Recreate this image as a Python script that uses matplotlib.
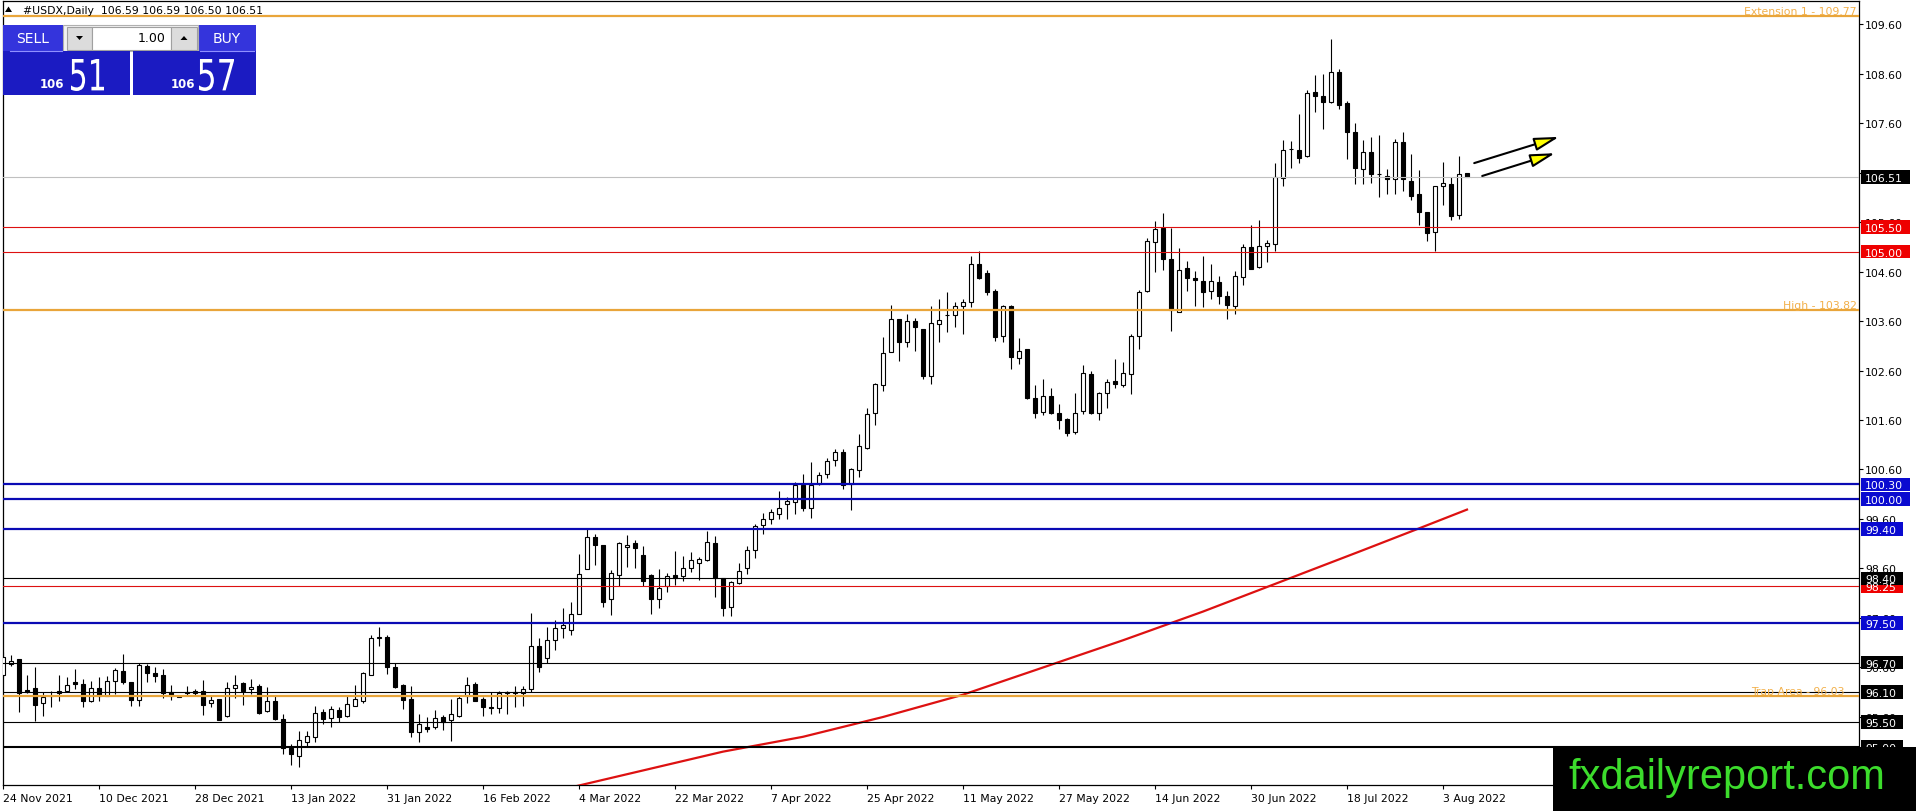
import matplotlib
matplotlib.use('Agg')
import matplotlib.pyplot as plt
import numpy as np
from matplotlib.patches import Rectangle, FancyArrowPatch, PathPatch, Polygon
from matplotlib.textpath import TextPath
from matplotlib.font_manager import FontProperties
from matplotlib.transforms import Affine2D, blended_transform_factory

# ---------------- data (daily OHLC, USDX) ----------------
opens = [96.44, 96.67, 96.77, 96.15, 96.19, 95.88, 96.02, 96.12, 96.12, 96.30,
         96.27, 95.92, 96.19, 96.03, 96.33, 96.52, 96.31, 95.95, 96.64, 96.49,
         96.45, 96.10, 96.02, 96.10, 96.09, 96.12, 95.88, 95.96, 95.61, 96.19,
         96.28, 96.16, 96.23, 95.72, 95.92, 95.56, 94.97, 94.82, 95.10, 95.20,
         95.70, 95.57, 95.74, 95.61, 95.83, 95.93, 96.45, 97.20, 97.22, 96.62,
         96.25, 95.96, 95.29, 95.39, 95.39, 95.60, 95.53, 95.61, 96.03, 96.27,
         95.96, 95.80, 95.78, 96.08, 96.09, 96.09, 96.17, 97.04, 96.80, 97.15,
         97.40, 97.35, 97.69, 98.58, 99.23, 99.07, 97.98, 98.46, 99.03, 99.11,
         98.87, 98.46, 97.98, 98.25, 98.46, 98.44, 98.60, 98.72, 98.77, 99.11,
         98.41, 97.82, 98.30, 98.60, 98.97, 99.47, 99.61, 99.70, 99.90, 99.94,
         100.29, 99.82, 100.31, 100.51, 100.79, 100.95, 100.31, 100.59, 101.03, 101.74,
         102.31, 102.97, 103.64, 103.17, 103.61, 103.44, 102.48, 103.54, 103.72, 103.72,
         103.90, 103.98, 104.75, 104.57, 104.21, 103.29, 103.90, 102.85, 103.03, 102.04,
         101.76, 102.09, 101.74, 101.63, 101.35, 101.79, 102.53, 101.74, 102.14, 102.38,
         102.31, 102.53, 103.30, 104.20, 105.20, 105.47, 104.85, 103.79, 104.68, 104.47,
         104.40, 104.20, 104.38, 104.11, 103.91, 104.48, 105.09, 104.70, 105.11, 105.16,
         106.48, 107.07, 107.05, 106.94, 108.23, 108.14, 108.02, 108.64, 108.00, 107.42,
         106.68, 107.02, 106.58, 106.52, 106.46, 107.21, 106.42, 106.17, 105.80, 105.39,
         106.33, 106.37, 105.75, 106.59]
highs = [96.91, 96.85, 96.77, 96.44, 96.60, 96.10, 96.13, 96.44, 96.40, 96.57,
         96.37, 96.33, 96.40, 96.42, 96.58, 96.87, 96.31, 96.69, 96.67, 96.60,
         96.57, 96.25, 96.03, 96.23, 96.17, 96.35, 96.03, 95.96, 96.31, 96.44,
         96.31, 96.37, 96.27, 96.20, 96.03, 95.66, 95.05, 95.32, 95.32, 95.82,
         95.76, 95.83, 95.80, 96.03, 96.25, 96.50, 97.26, 97.41, 97.26, 96.69,
         96.27, 96.22, 95.66, 95.59, 95.74, 95.64, 95.96, 96.03, 96.40, 96.30,
         96.00, 96.10, 96.13, 96.13, 96.23, 96.23, 97.71, 97.20, 97.41, 97.56,
         97.80, 97.92, 98.89, 99.40, 99.30, 99.07, 98.56, 99.14, 99.28, 99.18,
         99.05, 98.49, 98.59, 98.51, 98.95, 98.85, 98.93, 98.83, 99.35, 99.26,
         98.41, 98.35, 98.71, 99.05, 99.50, 99.73, 99.80, 100.16, 100.04, 100.34,
         100.50, 100.75, 100.54, 100.83, 101.01, 101.01, 100.63, 101.32, 101.84, 102.34,
         103.27, 103.92, 103.64, 103.74, 103.66, 103.44, 103.91, 104.04, 104.18, 103.98,
         104.04, 104.92, 105.01, 104.64, 104.25, 103.92, 103.92, 103.25, 103.03, 102.31,
         102.43, 102.24, 101.92, 101.65, 102.15, 102.71, 102.60, 102.17, 102.43, 102.83,
         102.77, 103.34, 104.23, 105.27, 105.63, 105.78, 105.47, 105.07, 104.81, 104.62,
         104.92, 104.75, 104.50, 104.21, 104.62, 105.16, 105.54, 105.64, 105.24, 106.79,
         107.26, 107.24, 107.78, 108.27, 108.57, 108.59, 109.30, 108.70, 108.05, 107.61,
         107.25, 107.31, 107.36, 106.68, 107.28, 107.41, 106.97, 106.65, 105.80, 106.32,
         106.82, 106.50, 106.94, 106.59]
lows = [96.40, 96.64, 95.71, 96.08, 95.51, 95.63, 95.80, 95.93, 96.10, 96.17,
        95.81, 95.90, 95.93, 96.02, 96.06, 96.27, 95.82, 95.83, 96.30, 96.30,
        95.98, 95.94, 96.00, 96.02, 96.03, 95.64, 95.81, 95.53, 95.59, 95.98,
        95.84, 96.07, 95.66, 95.71, 95.53, 94.85, 94.62, 94.58, 95.01, 95.09,
        95.46, 95.39, 95.49, 95.59, 95.82, 95.88, 96.44, 97.03, 96.47, 96.19,
        95.77, 95.20, 95.10, 95.30, 95.36, 95.34, 95.12, 95.59, 95.88, 95.92,
        95.63, 95.67, 95.69, 95.66, 95.80, 95.82, 96.10, 96.50, 96.70, 96.95,
        97.20, 97.25, 97.69, 98.58, 98.67, 97.82, 97.67, 98.25, 98.64, 98.60,
        98.25, 97.69, 97.81, 98.13, 98.27, 98.35, 98.52, 98.36, 98.76, 98.02,
        97.65, 97.65, 98.29, 98.48, 98.81, 99.30, 99.50, 99.60, 99.60, 99.70,
        99.77, 99.63, 100.28, 100.42, 100.68, 100.21, 99.78, 100.44, 101.01, 101.49,
        102.19, 102.97, 102.80, 103.07, 103.00, 102.43, 102.33, 103.17, 103.37, 103.47,
        103.34, 103.88, 104.45, 104.12, 103.20, 103.17, 102.64, 102.73, 102.03, 101.64,
        101.70, 101.72, 101.42, 101.27, 101.32, 101.72, 101.72, 101.61, 101.84, 102.24,
        102.26, 102.13, 103.03, 104.18, 104.60, 104.64, 103.40, 103.78, 104.21, 103.91,
        103.88, 104.04, 103.94, 103.65, 103.74, 104.33, 104.65, 104.68, 104.80, 105.02,
        106.33, 106.70, 106.80, 106.91, 107.83, 107.47, 108.00, 107.88, 106.87, 106.37,
        106.37, 106.39, 106.10, 106.17, 106.17, 106.23, 106.05, 105.53, 105.22, 105.02,
        105.94, 105.65, 105.66, 106.50]
closes = [96.81, 96.74, 96.08, 96.10, 95.85, 96.00, 96.03, 96.09, 96.25, 96.27,
          95.92, 96.19, 96.02, 96.32, 96.54, 96.31, 95.95, 96.65, 96.48, 96.42,
          96.08, 96.02, 96.01, 96.08, 96.12, 95.85, 95.94, 95.53, 96.18, 96.25,
          96.13, 96.20, 95.68, 95.93, 95.56, 94.97, 94.85, 95.14, 95.22, 95.69,
          95.55, 95.76, 95.59, 95.86, 95.96, 96.48, 97.19, 97.21, 96.60, 96.21,
          95.95, 95.30, 95.46, 95.36, 95.57, 95.49, 95.66, 95.99, 96.25, 95.93,
          95.80, 95.79, 96.08, 96.10, 96.10, 96.17, 97.04, 96.62, 97.15, 97.40,
          97.45, 97.69, 98.48, 99.23, 99.08, 97.93, 98.50, 99.11, 99.07, 99.01,
          98.35, 97.99, 98.20, 98.44, 98.41, 98.60, 98.77, 98.79, 99.13, 98.41,
          97.80, 98.32, 98.54, 98.97, 99.45, 99.60, 99.74, 99.82, 99.96, 100.29,
          99.82, 100.29, 100.48, 100.77, 100.95, 100.29, 100.61, 101.08, 101.72, 102.33,
          102.95, 103.65, 103.18, 103.61, 103.47, 102.48, 103.56, 103.63, 103.73, 103.91,
          103.99, 104.75, 104.46, 104.19, 103.27, 103.90, 102.87, 103.00, 102.04, 101.74,
          102.09, 101.74, 101.61, 101.33, 101.75, 102.54, 101.74, 102.14, 102.37, 102.32,
          102.55, 103.30, 104.18, 105.21, 105.46, 104.85, 103.83, 104.64, 104.46, 104.42,
          104.18, 104.40, 104.11, 103.92, 104.50, 105.09, 104.66, 105.11, 105.17, 106.50,
          107.06, 107.08, 106.89, 108.21, 108.15, 108.03, 108.64, 107.96, 107.42, 106.70,
          107.02, 106.56, 106.56, 106.46, 107.22, 106.46, 106.13, 105.81, 105.37, 106.32,
          106.38, 105.73, 106.57, 106.51]

date_tick_bars = [0, 12, 24, 36, 48, 60, 72, 84, 96, 108, 120, 132, 144, 156, 168, 180]
date_labels = ['24 Nov 2021', '10 Dec 2021', '28 Dec 2021', '13 Jan 2022', '31 Jan 2022',
               '16 Feb 2022', '4 Mar 2022', '22 Mar 2022', '7 Apr 2022', '25 Apr 2022',
               '11 May 2022', '27 May 2022', '14 Jun 2022', '30 Jun 2022', '18 Jul 2022',
               '3 Aug 2022']
price_ticks = [94.60, 95.60, 96.60, 97.60, 98.60, 99.60, 100.60, 101.60, 102.60,
               103.60, 104.60, 105.60, 106.60, 107.60, 108.60, 109.60]

# moving average (red line) read at a few bars
ma_bars = [70, 80, 90, 100, 110, 120, 130, 140, 150, 160, 170, 177, 183]
ma_values = [94.14, 94.52, 94.90, 95.20, 95.60, 96.05, 96.60, 97.15, 97.73, 98.35,
             98.97, 99.41, 99.79]

# horizontal levels
level_values = [109.77, 106.51, 105.50, 105.00, 103.82, 100.30, 100.00, 99.40,
                98.25, 98.40, 97.50, 96.70, 96.10, 96.03, 95.50, 95.00]
level_kinds = ['orange', 'price', 'red', 'red', 'orange', 'blue', 'blue', 'blue',
               'red', 'black', 'blue', 'black', 'black', 'orange', 'black', 'blackthick']
orange_texts = {109.77: 'Extension 1 - 109.77', 103.82: 'High - 103.82',
                96.03: 'Trap Area - 96.03'}
orange_text_right = {109.77: 1857, 103.82: 1857, 96.03: 1845}

# arrows (bar, price) start -> tip
arrow_starts = [(183.9, 106.79), (184.9, 106.53)]
arrow_tips = [(194.5, 107.32), (194.0, 106.99)]

header = '#USDX,Daily  106.59 106.59 106.50 106.51'
sell_big, buy_big, price_small = '51', '57', '106'
lot_text = '1.00'

# ---------------- figure ----------------
W, H = 1916, 812
Lp, Rp, Tp, Bp = 2.7, 1859.0, 2.0, 786.0
fig = plt.figure(figsize=(W / 100, H / 100), dpi=100)
fig.patch.set_facecolor('white')
ax = fig.add_axes([Lp / W, (H - Bp) / H, (Rp - Lp) / W, (Bp - Tp) / H])
ax.set_xlim(-0.04, 232.0)
ax.set_ylim(94.226, 110.065)
ax.set_facecolor('white')
for sp in ax.spines.values():
    sp.set_color('black')
    sp.set_linewidth(0.9)

FS = 7.8
o = np.array(opens); h = np.array(highs); l = np.array(lows); c = np.array(closes)
x = np.arange(len(o))
ax.vlines(x, l, h, color='black', lw=0.8, zorder=3)
up = c >= o
ax.bar(x[up], (c - o)[up], bottom=o[up], width=0.58, facecolor='white',
       edgecolor='black', linewidth=0.8, zorder=4)
ax.bar(x[~up], (o - c)[~up], bottom=c[~up], width=0.58, facecolor='black',
       edgecolor='black', linewidth=0.8, zorder=4)

ax.plot(ma_bars, ma_values, color='#dd1111', lw=1.6, zorder=4.5)

style = {
    'orange': ('#e9a53a', 1.6),
    'price': ('#c0c0c0', 0.8),
    'red': ('#dd1111', 0.8),
    'blue': ('#0a0ab4', 1.6),
    'black': ('black', 0.8),
    'blackthick': ('black', 1.5),
}
box_color = {'price': 'black', 'red': '#ee0000', 'blue': '#0a0ad0',
             'black': 'black', 'blackthick': 'black'}

tr_b = blended_transform_factory(ax.transAxes, ax.transData)
span = Rp - Lp
bx0 = (1861 - Lp) / span
tx0 = (1865 - Lp) / span
box_h = 13.5 / 49.5

for v, k in zip(level_values, level_kinds):
    col, lw = style[k]
    ax.axhline(v, color=col, lw=lw, zorder=5)
    if k == 'orange':
        ax.text((orange_text_right[v] - Lp) / span, v + 0.035, orange_texts[v],
                transform=tr_b, ha='right', va='baseline', fontsize=FS,
                color='#f2b04a', zorder=6)
    else:
        lab = '%.2f' % v
        wpx = 49 if len(lab) == 6 else 42
        ax.add_patch(Rectangle((bx0, v - box_h / 2), wpx / span, box_h, transform=tr_b,
                               facecolor=box_color[k], edgecolor='none',
                               clip_on=False, zorder=7))
        ax.text(tx0, v, lab, transform=tr_b, ha='left', va='center_baseline',
                fontsize=FS, color='white', clip_on=False, zorder=8)

for (x0, y0), (x1, y1) in zip(arrow_starts, arrow_tips):
    ax.add_patch(FancyArrowPatch((x0, y0), (x1, y1),
                                 arrowstyle='-|>,head_length=0.75,head_width=0.2',
                                 mutation_scale=20, facecolor='#ffff00',
                                 edgecolor='black', lw=1.5, zorder=9, clip_on=False,
                                 shrinkA=0, shrinkB=0))

ax.yaxis.tick_right()
ax.set_yticks(price_ticks)
ax.set_yticklabels(['%.2f' % t for t in price_ticks])
ax.tick_params(axis='y', direction='out', length=3, width=0.8, pad=1.5,
               labelsize=FS, colors='black')
ax.set_xticks(date_tick_bars)
ax.set_xticklabels(date_labels, ha='left')
ax.tick_params(axis='x', direction='out', length=3, width=0.8, pad=3,
               labelsize=FS, colors='black')

# ---------------- overlay (panel, header, logo) ----------------
ov = fig.add_axes([0, 0, 1, 1], zorder=20)
ov.set_xlim(0, W)
ov.set_ylim(H, 0)
ov.axis('off')
ov.patch.set_alpha(0)


def rect(x0, y0, x1, y1, **kw):
    ov.add_patch(Rectangle((x0, y0), x1 - x0, y1 - y0, **kw))


ov.add_patch(Polygon([(5, 13), (12, 13), (8.5, 7.5)], closed=True, fc='black', ec='none'))
ov.text(23, 11.5, header, fontsize=FS, color='black', ha='left', va='center')

lbl_blue = '#3434dc'
big_blue = '#1b1bc2'
rect(3, 26, 63, 52, fc=lbl_blue, ec='none')
rect(198, 26, 256, 52, fc=lbl_blue, ec='none')
rect(63, 26, 198, 52, fc='#f2f2f2', ec='#b0b0b0', lw=0.8)
rect(67, 27.5, 92, 50.5, fc='#dcdcdc', ec='#a0a0a0', lw=0.8)
rect(92, 27.5, 171, 50.5, fc='white', ec='#a0a0a0', lw=0.8)
rect(171, 27.5, 197, 50.5, fc='#dcdcdc', ec='#a0a0a0', lw=0.8)
ov.add_patch(Polygon([(76, 37), (83, 37), (79.5, 41)], closed=True, fc='black', ec='none'))
ov.add_patch(Polygon([(180.5, 41), (187.5, 41), (184, 37)], closed=True, fc='black', ec='none'))
ov.text(166, 39, lot_text, fontsize=9, ha='right', va='center', color='black')
rect(3, 52, 130, 96, fc=big_blue, ec='none')
rect(133, 52, 256, 96, fc=big_blue, ec='none')
ov.plot([10, 62], [52, 52], color='#9090ff', lw=0.8)
ov.plot([200, 254], [52, 52], color='#9090ff', lw=0.8)
ov.text(33, 39, 'SELL', fontsize=10, ha='center', va='center', color='white')
ov.text(227, 39, 'BUY', fontsize=10, ha='center', va='center', color='white')
ov.text(40, 88, price_small, fontsize=8.5, fontweight='bold', ha='left', va='baseline', color='white')
ov.text(171, 88, price_small, fontsize=8.5, fontweight='bold', ha='left', va='baseline', color='white')


def big_digits(s, x0, x1, ytop, ybot):
    tp = TextPath((0, 0), s, size=10, prop=FontProperties(family='DejaVu Sans'))
    bb = tp.get_extents()
    sx = (x1 - x0) / bb.width
    sy = (ybot - ytop) / bb.height
    tr = Affine2D().translate(-bb.x0, -bb.y0).scale(sx, -sy).translate(x0, ybot) + ov.transData
    ov.add_patch(PathPatch(tp, fc='white', ec='none', transform=tr))


big_digits(sell_big, 71, 104, 60, 92)
big_digits(buy_big, 199, 234, 60, 92)

rect(1553, 748, W, H, fc='black', ec='none')
ov.text(1727, 789, 'fxdailyreport.com', fontsize=30, family='Liberation Sans',
        color='#3cdc2c', ha='center', va='baseline')

fig.savefig('out.png', dpi=100, facecolor='white')
